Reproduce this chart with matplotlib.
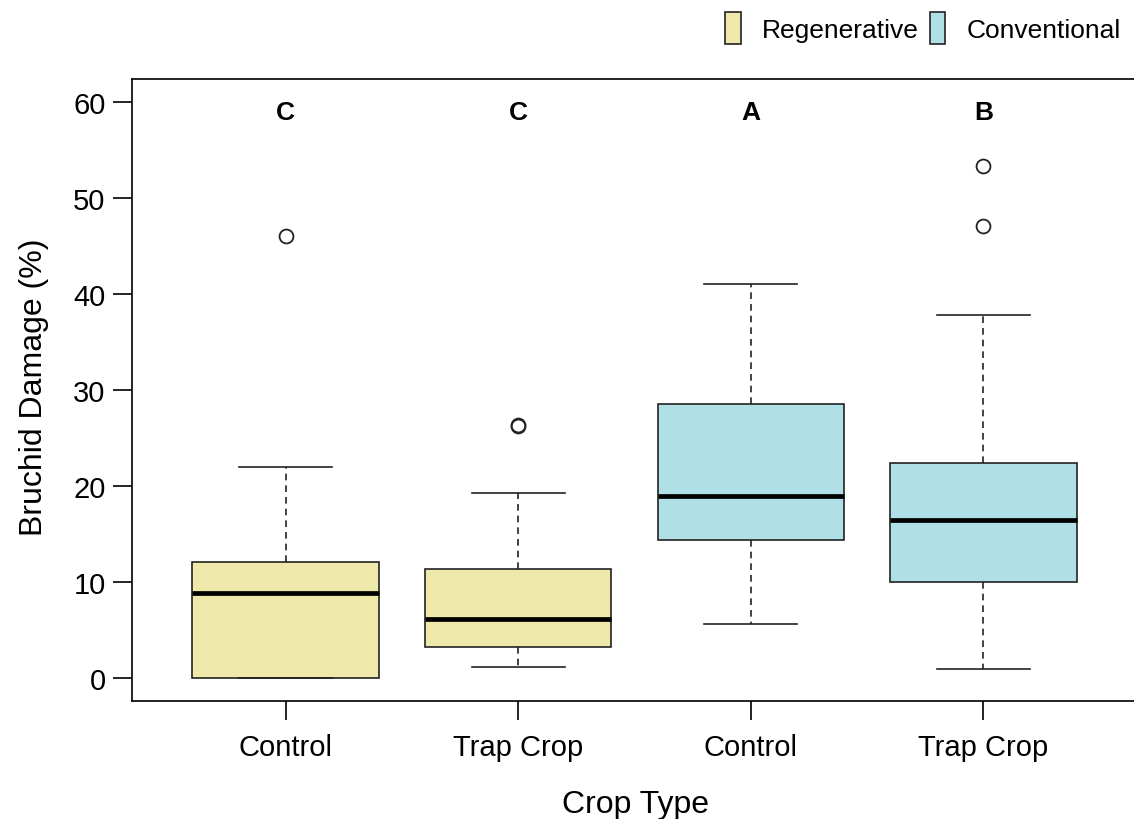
import numpy as np
import matplotlib
import matplotlib.pyplot as plt
from matplotlib.patches import Patch

matplotlib.rcParams.update({
    'font.family': 'Liberation Sans',
    'font.size': 21,
    'axes.linewidth': 1.2,
    'xtick.major.width': 1.2,
    'ytick.major.width': 1.2,
})

# summary statistics per group (Regenerative x2, Conventional x2)
labels = ['Control', 'Trap Crop', 'Control', 'Trap Crop']
q1 = [0.0, 3.2, 14.4, 10.0]
medians = [8.8, 6.1, 19.0, 16.5]
q3 = [12.1, 11.4, 28.5, 22.4]
whis_lo = [0.0, 1.1, 5.6, 0.9]
whis_hi = [22.0, 19.3, 41.0, 37.8]
outliers = [[46.0], [26.2, 26.4], [], [47.1, 53.3]]
letters = ['C', 'C', 'A', 'B']
systems = ['Regenerative', 'Regenerative', 'Conventional', 'Conventional']
fill = {'Regenerative': '#EEE8AA', 'Conventional': '#B0E0E6'}

stats = []
for i in range(len(labels)):
    stats.append(dict(q1=q1[i], med=medians[i], q3=q3[i],
                      whislo=whis_lo[i], whishi=whis_hi[i],
                      fliers=outliers[i], label=labels[i]))

fig = plt.figure(figsize=(11.34, 8.2), dpi=100)
ax = fig.add_axes([132 / 1134, 1 - 702 / 820, (1137 - 132) / 1134, (702 - 80) / 820])

pos = np.arange(1, len(labels) + 1)
bp = ax.bxp(stats, positions=pos, widths=0.8, patch_artist=True,
            boxprops=dict(edgecolor='#222222', linewidth=1.2),
            medianprops=dict(color='black', linewidth=3.4, solid_capstyle='butt'),
            whiskerprops=dict(color='#222222', linewidth=1.2, linestyle=(0, (4, 3))),
            capprops=dict(color='#222222', linewidth=1.2),
            capwidths=0.4,
            flierprops=dict(marker='o', markersize=10, markerfacecolor='none',
                            markeredgecolor='#222222', markeredgewidth=1.3))
for patch, s in zip(bp['boxes'], systems):
    patch.set_facecolor(fill[s])

for x, t in zip(pos, letters):
    ax.text(x, 59, t, ha='center', va='center', fontsize=19, fontweight='bold')

ax.set_xlim(0.34, 4.66)
ax.set_ylim(-2.4, 62.4)
ax.set_yticks(np.arange(0, 61, 10))
ax.set_xticks(pos)
ax.set_xticklabels(labels)
ax.tick_params(axis='y', length=14, pad=5)
ax.tick_params(axis='x', length=14, pad=9)
ax.spines['right'].set_visible(False)

ax.set_xlabel('Crop Type', fontsize=23)
ax.xaxis.set_label_coords(0.501, -0.166)
ax.xaxis.label.set_va('center')
ax.set_ylabel('Bruchid Damage (%)', fontsize=23)
ax.yaxis.set_label_coords(-0.098, 0.506)
ax.yaxis.label.set_va('center')

handles = [Patch(facecolor=fill[k], edgecolor='#222222', linewidth=1.2, label=k)
           for k in ['Regenerative', 'Conventional']]
fig.legend(handles=handles, loc='upper right', bbox_to_anchor=(1.0, 1.0),
           ncol=2, frameon=False, fontsize=19, handlelength=0.6, handleheight=1.5,
           handletextpad=0.8, columnspacing=0.4, borderaxespad=0.1)

fig.savefig('out.png', dpi=100)
